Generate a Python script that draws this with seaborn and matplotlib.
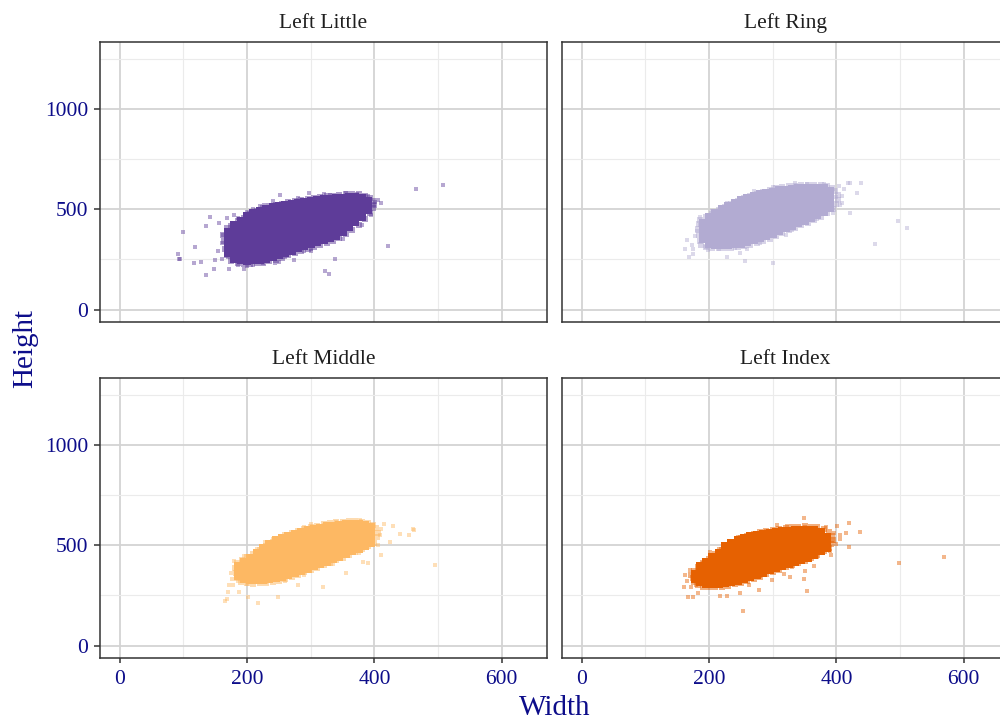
import matplotlib
matplotlib.use("Agg")
import matplotlib.pyplot as plt
import pandas as pd
import seaborn as sns
from matplotlib.ticker import FixedLocator

# ---------------- data ----------------
fingers = ["Left Little", "Left Ring", "Left Middle", "Left Index"]
colors = ["#5e3c99", "#b2abd2", "#fdb863", "#e66101"]
x_ticks = [0, 200, 400, 600]
x_minor = [100, 300, 500]
y_ticks = [0, 500, 1000]
y_minor = [250, 750, 1250]

# dense body of each cloud: "width: heights..."
little_body = """
170: 280 308 336 364 388
180: 252 280 308 336 364 392 420
190: 245 273 301 329 357 385 413 441
200: 243 271 299 327 355 383 411 439 465
210: 245 273 301 329 357 385 413 441 469 480
220: 248 276 304 332 360 388 416 444 472 492
230: 252 280 308 336 364 392 420 448 476 502
240: 262 290 318 346 374 402 430 458 486 510
250: 272 300 328 356 384 412 440 468 496 516
260: 283 311 339 367 395 423 451 479 507 522
270: 294 322 350 378 406 434 462 490 518 528
280: 306 334 362 390 418 446 474 502 530
290: 316 344 372 400 428 456 484 512 537
300: 326 354 382 410 438 466 494 522 542
310: 336 364 392 420 448 476 504 532 546
320: 346 374 402 430 458 486 514 542 550
330: 356 384 412 440 468 496 524 552
340: 368 396 424 452 480 508 536 556
350: 388 416 444 472 500 528 556
360: 410 438 466 494 522 550 562
370: 436 464 492 520 548 560
380: 460 488 516 544 556
390: 495 520 542
"""
ring_body = """
190: 350 378 406 432
200: 328 356 384 412 440 462
210: 322 350 378 406 434 462 482
220: 322 350 378 406 434 462 490 503
230: 323 351 379 407 435 463 491 515
240: 325 353 381 409 437 465 493 521 530
250: 328 356 384 412 440 468 496 524 545
260: 336 364 392 420 448 476 504 532 556
270: 346 374 402 430 458 486 514 542 566
280: 356 384 412 440 468 496 524 552 574
290: 366 394 422 450 478 506 534 562 582
300: 378 406 434 462 490 518 546 574 588
310: 392 420 448 476 504 532 560 588 594
320: 405 433 461 489 517 545 573 598
330: 418 446 474 502 530 558 586 602
340: 430 458 486 514 542 570 598 604
350: 443 471 499 527 555 583 605
360: 456 484 512 540 568 596 606
370: 470 498 526 554 582 606
380: 486 514 542 570 598 604
390: 505 533 561 589
"""
middle_body = """
186: 345 372 398
195: 330 358 386 414
205: 325 353 381 409 437
215: 325 353 381 409 437 462
225: 327 355 383 411 439 467 485
235: 330 358 386 414 442 470 498 506
245: 335 363 391 419 447 475 503 525
255: 341 369 397 425 453 481 509 537
265: 350 378 406 434 462 490 518 548
275: 360 388 416 444 472 500 528 556
285: 370 398 426 454 482 510 538 566
295: 382 410 438 466 494 522 550 574
305: 394 422 450 478 506 534 562 580
315: 406 434 462 490 518 546 574 588
325: 418 446 474 502 530 558 586 594
335: 430 458 486 514 542 570 598
345: 443 471 499 527 555 583 603
355: 457 485 513 541 569 597 606
365: 470 498 526 554 582 606
375: 482 510 538 566 594 604
385: 496 524 552 580 600
395: 512 540 568 590
"""
index_body = """
178: 330 356
186: 315 343 371 395
195: 305 333 361 389 415
205: 305 333 361 389 417 440
215: 308 336 364 392 420 448 462
225: 312 340 368 396 424 452 480 495
235: 317 345 373 401 429 457 485 510
245: 324 352 380 408 436 464 492 520 525
255: 332 360 388 416 444 472 500 528 535
265: 342 370 398 426 454 482 510 538 545
275: 352 380 408 436 464 492 520 548 552
285: 362 390 418 446 474 502 530 558
295: 374 402 430 458 486 514 542 563
305: 386 414 442 470 498 526 554 568
315: 396 424 452 480 508 536 564 572
325: 405 433 461 489 517 545 573
335: 414 442 470 498 526 554 577
345: 424 452 480 508 536 564 578
355: 436 464 492 520 548 576
365: 450 478 506 534 562 578
375: 470 498 526 554 568
385: 488 516 540
"""

# thinner rim just around each body: (width, height)
little_rim = [(168, 404), (175, 418), (185, 440), (195, 458), (205, 478), (215, 492), (225, 504),
              (235, 514), (245, 522), (255, 528), (265, 534), (275, 540), (285, 546), (295, 552),
              (305, 556), (315, 560), (325, 564), (335, 568), (345, 570), (355, 574), (365, 576),
              (375, 574), (385, 566), (393, 556), (398, 540), (400, 520), (398, 505),
              (166, 300), (168, 270), (175, 240), (185, 232), (195, 228), (205, 226), (215, 230),
              (225, 234), (235, 240), (245, 248), (255, 258), (265, 270), (275, 280), (285, 292),
              (295, 302), (305, 312), (315, 322), (325, 332), (335, 344), (345, 358), (355, 376),
              (365, 396), (375, 420), (385, 450), (393, 480), (163, 340), (162, 370)]
ring_rim = [(186, 445), (195, 462), (205, 478), (215, 496), (225, 512), (235, 526), (245, 540),
            (255, 554), (265, 566), (275, 578), (285, 588), (295, 596), (305, 604), (315, 610),
            (325, 614), (335, 618), (345, 620), (355, 622), (365, 622), (375, 620), (385, 614),
            (393, 604), (398, 590), (402, 570), (402, 548), (400, 525),
            (186, 340), (188, 322), (195, 312), (205, 306), (215, 306), (225, 306), (235, 308),
            (245, 310), (255, 315), (265, 322), (275, 332), (285, 342), (295, 354), (305, 366),
            (315, 380), (325, 394), (335, 406), (345, 420), (355, 432), (365, 446), (375, 462),
            (385, 480), (395, 500), (184, 370), (183, 400), (184, 425)]
middle_rim = [(184, 410), (192, 425), (200, 440), (210, 455), (220, 476), (230, 494), (240, 514),
              (250, 532), (260, 550), (270, 562), (280, 572), (290, 582), (300, 590), (310, 598),
              (320, 604), (330, 610), (340, 614), (350, 618), (360, 620), (370, 622), (380, 618),
              (390, 612), (398, 602), (403, 585), (405, 562), (404, 540),
              (182, 360), (184, 335), (190, 318), (200, 310), (210, 308), (220, 310), (230, 313),
              (240, 318), (250, 324), (260, 332), (270, 342), (280, 352), (290, 364), (300, 376),
              (310, 388), (320, 400), (330, 412), (340, 424), (350, 438), (360, 452), (370, 466),
              (380, 480), (390, 496), (400, 512), (181, 385)]
index_rim = [(176, 372), (182, 392), (190, 410), (200, 432), (210, 455), (220, 474), (230, 496),
             (240, 518), (250, 534), (260, 548), (270, 556), (280, 564), (290, 572), (300, 578),
             (310, 582), (320, 586), (330, 590), (340, 592), (350, 594), (360, 592), (370, 590),
             (380, 582), (388, 566), (393, 548), (394, 525), (392, 505),
             (174, 335), (176, 318), (182, 302), (190, 292), (200, 290), (210, 290), (220, 294),
             (230, 298), (240, 306), (250, 314), (260, 322), (270, 332), (280, 342), (290, 354),
             (300, 366), (310, 378), (320, 390), (330, 400), (340, 410), (350, 422), (360, 436),
             (370, 452), (380, 470), (388, 488), (172, 352)]

# scattered points around each cloud: (width, height)
little_sparse = [(100, 386), (91, 278), (94, 250), (136, 174), (148, 200), (118, 312),
                 (142, 463), (135, 416), (156, 430), (169, 458), (200, 488), (226, 522),
                 (252, 569), (297, 580), (373, 575), (401, 534), (422, 315), (465, 601),
                 (507, 622), (323, 191), (329, 178), (338, 250), (273, 245), (244, 231),
                 (195, 203), (171, 203), (149, 245), (127, 237), (116, 233), (93, 253),
                 (160, 330), (155, 290), (162, 370), (185, 220), (210, 222), (260, 260),
                 (300, 300), (350, 350), (380, 420), (395, 470), (400, 520), (330, 570),
                 (280, 555), (240, 540), (210, 500), (185, 455), (355, 580), (390, 565),
                 (170, 260), (225, 230), (290, 290), (180, 470), (220, 515), (320, 578),
                 (405, 545), (410, 530), (300, 290), (250, 238), (200, 215), (160, 250)]
ring_sparse = [(162, 300), (173, 322), (165, 347), (169, 263), (175, 275), (181, 389),
               (186, 423), (228, 529), (249, 552), (301, 233), (335, 633), (354, 624),
               (380, 624), (404, 616), (418, 633), (439, 633), (422, 482), (409, 532),
               (432, 582), (497, 440), (511, 406), (460, 325), (228, 263), (249, 280),
               (256, 240), (422, 630), (195, 310), (185, 460), (205, 490), (270, 590),
               (300, 610), (400, 560), (405, 520), (395, 480), (370, 450), (330, 395),
               (280, 330), (240, 305), (215, 300), (178, 365), (412, 600), (408, 565),
               (198, 295), (175, 300), (260, 300), (320, 370)]
middle_sparse = [(166, 223), (170, 268), (178, 301), (175, 359), (188, 268), (202, 243),
                 (217, 210), (249, 243), (280, 301), (319, 290), (356, 359), (382, 417),
                 (390, 412), (408, 550), (411, 450), (429, 594), (440, 558), (454, 550),
                 (462, 578), (495, 399), (424, 517), (228, 517), (340, 616), (377, 624),
                 (461, 580), (168, 230), (180, 420), (195, 445), (215, 480), (240, 530),
                 (290, 590), (320, 600), (410, 580), (405, 500), (375, 460), (335, 405),
                 (290, 350), (230, 315), (200, 305), (185, 320), (176, 330), (172, 300),
                 (260, 320), (415, 605), (300, 605)]
index_sparse = [(162, 353), (161, 291), (167, 242), (175, 242), (183, 262), (170, 377),
                (202, 464), (217, 245), (228, 248), (248, 262), (254, 174), (278, 275),
                (299, 328), (317, 358), (327, 341), (349, 333), (354, 273), (350, 369),
                (364, 394), (391, 452), (406, 530), (419, 490), (415, 563), (419, 609),
                (437, 565), (349, 634), (307, 601), (322, 596), (383, 593), (396, 560),
                (401, 596), (498, 411), (569, 440), (180, 300), (190, 410), (215, 480),
                (245, 540), (290, 570), (350, 590), (395, 520), (390, 470), (370, 440),
                (330, 390), (280, 345), (235, 310), (205, 295), (165, 320), (172, 290),
                (400, 505), (405, 550), (262, 300)]

bodies = [little_body, ring_body, middle_body, index_body]
rims = [little_rim, ring_rim, middle_rim, index_rim]
sparses = [little_sparse, ring_sparse, middle_sparse, index_sparse]


def parse_body(text):
    w, h = [], []
    for row in text.strip().splitlines():
        xv, vals = row.split(":")
        for v in vals.split():
            w.append(float(xv))
            h.append(float(v))
    return pd.DataFrame({"Width": w, "Height": h})


# ---------------- styling ----------------
sns.set_theme(style="white")
plt.rcParams["font.family"] = ["Liberation Serif", "DejaVu Serif"]

NAVY = "#0d0d8a"
DARK = "#333333"

fig = plt.figure(figsize=(10, 7.21), dpi=100)
positions = [(0.100, 0.5534, 0.447, 0.3883), (0.562, 0.5534, 0.447, 0.3883),
             (0.100, 0.0874, 0.447, 0.3883), (0.562, 0.0874, 0.447, 0.3883)]

for i, (name, col, body, rim, sparse, pos) in enumerate(
        zip(fingers, colors, bodies, rims, sparses, positions)):
    ax = fig.add_axes(pos)
    bdf = parse_body(body)
    rdf = pd.DataFrame(rim, columns=["Width", "Height"])
    sdf = pd.DataFrame(sparse, columns=["Width", "Height"])
    sns.scatterplot(data=rdf, x="Width", y="Height", color=col, marker="s", s=16,
                    linewidth=0, alpha=0.5, ax=ax, legend=False)
    sns.scatterplot(data=bdf, x="Width", y="Height", color=col, marker="s", s=26,
                    linewidth=0, alpha=1.0, ax=ax, legend=False)
    sns.scatterplot(data=sdf, x="Width", y="Height", color=col, marker="s", s=6.5,
                    linewidth=0, alpha=0.45, ax=ax, legend=False)
    ax.set_xlim(-31, 671)
    ax.set_ylim(-62, 1333)
    ax.xaxis.set_major_locator(FixedLocator(x_ticks))
    ax.xaxis.set_minor_locator(FixedLocator(x_minor))
    ax.yaxis.set_major_locator(FixedLocator(y_ticks))
    ax.yaxis.set_minor_locator(FixedLocator(y_minor))
    ax.grid(which="major", color="#d3d3d3", linewidth=1.3)
    ax.grid(which="minor", color="#ebebeb", linewidth=0.8)
    ax.set_axisbelow(True)
    ax.set_xlabel("")
    ax.set_ylabel("")
    for sp in ax.spines.values():
        sp.set_color(DARK)
        sp.set_linewidth(1.1)
    ax.tick_params(which="minor", length=0)
    row, colx = divmod(i, 2)
    ax.tick_params(axis="x", which="major", bottom=(row == 1), labelbottom=(row == 1),
                   length=3.8, width=1.1, color=DARK, pad=5.0, labelsize=15.5,
                   labelcolor=NAVY)
    ax.tick_params(axis="y", which="major", left=(colx == 0), labelleft=(colx == 0),
                   length=4.0, width=1.1, color=DARK, pad=4.3, labelsize=15.5,
                   labelcolor=NAVY)
    ax.annotate(name, xy=(0.5, 1.0), xycoords="axes fraction", xytext=(0, 10),
                textcoords="offset points", ha="center", va="baseline",
                fontsize=15.5, color="#1f1f1f")

fig.text(0.5545, 6 / 721, "Width", ha="center", va="baseline", fontsize=21, color=NAVY)
fig.text(0.0323, 1 - 349 / 721, "Height", ha="center", va="baseline", rotation=90,
         rotation_mode="anchor", fontsize=21, color=NAVY)

fig.savefig("out.png", dpi=100)
